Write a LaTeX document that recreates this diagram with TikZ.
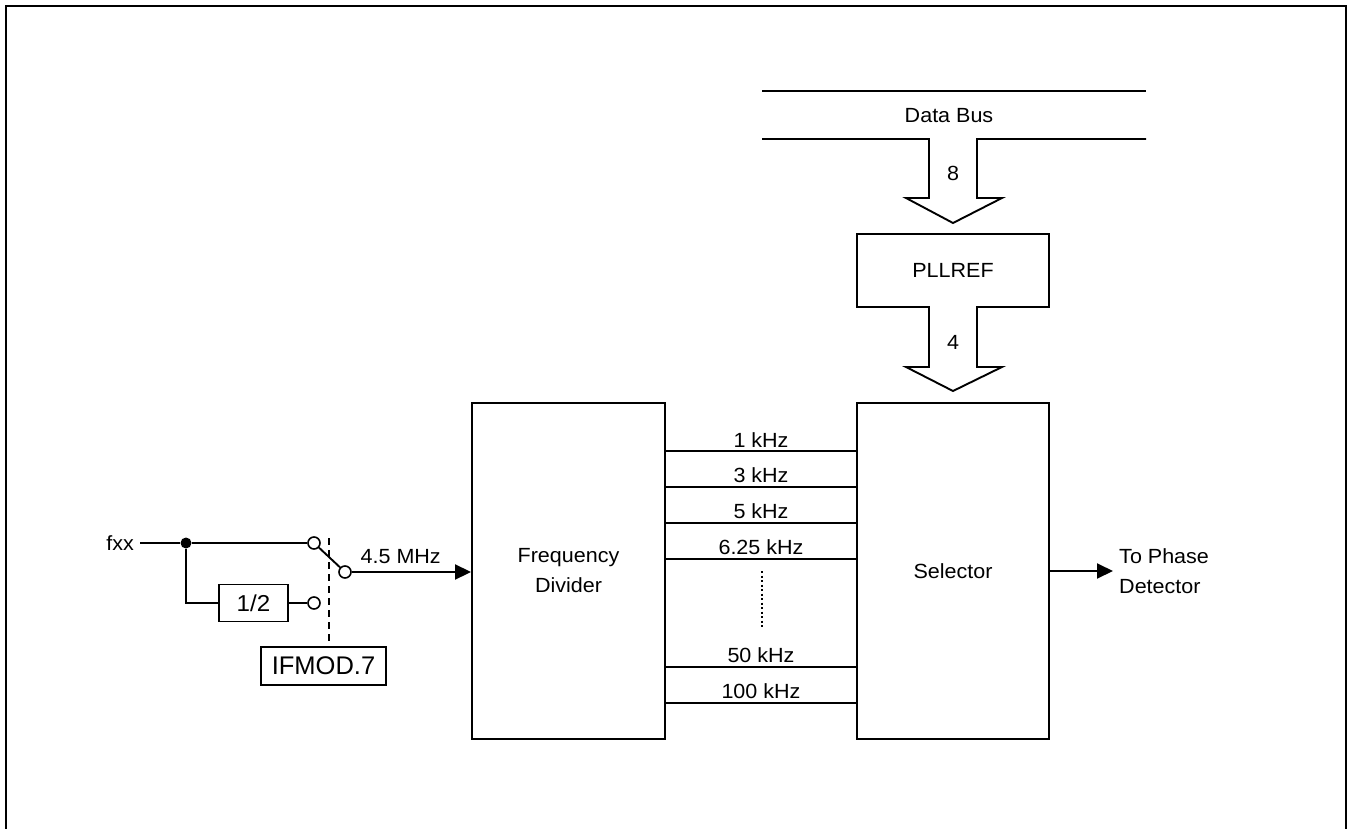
\documentclass[tikz,border=0pt]{standalone}
\usepackage{fontspec}
\setmainfont{Liberation Sans}[FakeStretch=1.05]
\newfontfamily\narrowsans{Liberation Sans}
\usetikzlibrary{arrows.meta}

\begin{document}
\begin{tikzpicture}[x=1pt, y=-1pt,
    lbl/.style={font=\fontsize{20.5}{30}\selectfont},
    box/.style={draw, line width=1.9pt, inner sep=0pt, lbl},
    contact/.style={draw, circle, line width=1.6pt, fill=white,
                    minimum size=12pt, inner sep=0pt},
    wire/.style={line width=1.9pt},
    sig/.style={wire, -{Triangle[length=16pt,width=15pt]}},
    bus/.style={line width=1.9pt, line join=miter}
  ]
  \useasboundingbox (0,0) rectangle (1348,829);
  % Frame
  \draw[line width=2.2pt] (6,829) -- (6,6) -- (1346,6) -- (1346,829);
  % Boxes
  \node[box, minimum width=193pt, minimum height=336pt, align=center] (div) at (568.5,571)
        {Frequency\\Divider};
  \node[box, minimum width=192pt, minimum height=336pt] (sel) at (953,571) {Selector};
  \node[box, minimum width=69pt, minimum height=37pt,
        font=\fontsize{23}{26}\selectfont] (half) at (253.5,603) {1/2};
  \node[box, minimum width=125pt, minimum height=38pt,
        font=\narrowsans\fontsize{25.5}{28}\selectfont] (ifmod) at (323.5,666) {IFMOD.7};
  % Data bus and block arrows
  \draw[bus] (762,91) -- (1146,91);
  \draw[bus] (762,139) -- (929,139) -- (929,198) -- (906,198) -- (953,223)
        -- (1002,198) -- (977,198) -- (977,139) -- (1146,139);
  \draw[bus] (929,367) -- (906,367) -- (953,391) -- (1002,367) -- (977,367)
        -- (977,307) -- (1049,307) -- (1049,234) -- (857,234) -- (857,307)
        -- (929,307) -- cycle;
  \node[lbl] (bus) at (949,116) {Data Bus};
  \node[lbl] (w8) at (953,173) {8};
  \node[lbl] (pll) at (953,270) {PLLREF};
  \node[lbl] (w4) at (953,342) {4};
  % Input and switch
  \node[lbl, anchor=east, inner sep=6pt] (fxx) at (140,543) {fxx};
  \node[circle, fill, inner sep=0pt, minimum size=11pt] (dot) at (186,543) {};
  \node[contact] (c1) at (314,543) {};
  \node[contact] (c2) at (314,603) {};
  \node[contact] (c3) at (345,572) {};
  \coordinate (lever) at (329,538);
  \draw[wire] (fxx) -- (dot) -- (c1);
  \draw[wire] (dot) |- (half);
  \draw[wire] (half) -- (c2);
  \draw[wire] (c1) -- (c3);
  \draw[wire, line width=1.6pt, dash pattern=on 7pt off 5pt] (lever) -- (lever |- ifmod.north);
  \draw[sig] (c3) -- node[above=4pt, lbl, pos=0.41]{4.5 MHz} (div.west |- c3);
  % Divider outputs
  \foreach \y/\f in {451/1 kHz, 487/3 kHz, 523/5 kHz, 559/6.25 kHz, 667/50 kHz, 703/100 kHz}
    \draw[wire] (div.east |- 0,\y) -- node[above, lbl, inner sep=3pt]{\f} (sel.west |- 0,\y);
  \draw[line width=1.5pt, dash pattern=on 2pt off 2.5pt] (762,571) -- (762,628);
  % Output
  \node[lbl, anchor=west, align=left, inner sep=6pt] (phase) at (1113,571) {To Phase\\Detector};
  \draw[sig] (sel) -- (phase.west);
\end{tikzpicture}
\end{document}
